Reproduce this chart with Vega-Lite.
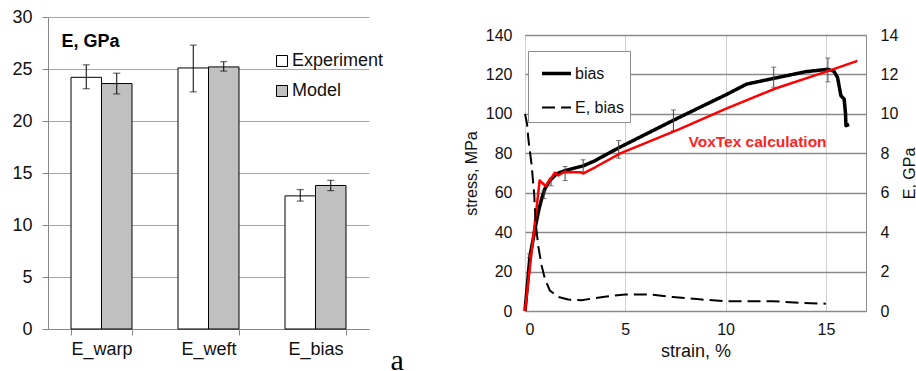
{
  "$schema": "https://vega.github.io/schema/vega-lite/v6.json",
  "background": "white",
  "padding": {"left": 0, "top": 8, "right": 0, "bottom": 0},
  "config": {
    "font": "Liberation Sans",
    "view": {"stroke": null},
    "axis": {"labelFont": "Liberation Sans", "titleFont": "Liberation Sans", "labelColor": "#111", "titleColor": "#111", "titleFontWeight": "normal", "labelOverlap": false},
    "legend": {"labelFont": "Liberation Sans", "labelColor": "#111"}
  },
  "datasets": {
    "bars": [
      {"param": "E_warp", "series": "Experiment", "value": 24.2, "lo": 23.1, "hi": 25.4},
      {"param": "E_warp", "series": "Model", "value": 23.6, "lo": 22.6, "hi": 24.6},
      {"param": "E_weft", "series": "Experiment", "value": 25.1, "lo": 22.8, "hi": 27.3},
      {"param": "E_weft", "series": "Model", "value": 25.2, "lo": 24.8, "hi": 25.7},
      {"param": "E_bias", "series": "Experiment", "value": 12.8, "lo": 12.3, "hi": 13.4},
      {"param": "E_bias", "series": "Model", "value": 13.8, "lo": 13.3, "hi": 14.3}
    ],
    "bias": [
      {"series": "bias", "strain": 0, "stress": 0},
      {"series": "bias", "strain": 0.25, "stress": 28},
      {"series": "bias", "strain": 0.41, "stress": 36.6},
      {"series": "bias", "strain": 0.53, "stress": 43.4},
      {"series": "bias", "strain": 0.7, "stress": 51.8},
      {"series": "bias", "strain": 0.83, "stress": 56.9},
      {"series": "bias", "strain": 0.99, "stress": 62},
      {"series": "bias", "strain": 1.24, "stress": 66.2},
      {"series": "bias", "strain": 1.58, "stress": 69.6},
      {"series": "bias", "strain": 1.99, "stress": 71.2},
      {"series": "bias", "strain": 2.9, "stress": 73.6},
      {"series": "bias", "strain": 3.48, "stress": 76.2},
      {"series": "bias", "strain": 4.6, "stress": 82.4},
      {"series": "bias", "strain": 7.37, "stress": 96.6},
      {"series": "bias", "strain": 8.7, "stress": 103.2},
      {"series": "bias", "strain": 10.0, "stress": 109.6},
      {"series": "bias", "strain": 11.05, "stress": 115.1},
      {"series": "bias", "strain": 12.4, "stress": 118},
      {"series": "bias", "strain": 14.0, "stress": 121.4},
      {"series": "bias", "strain": 15.1, "stress": 122.6},
      {"series": "bias", "strain": 15.4, "stress": 121.6},
      {"series": "bias", "strain": 15.58, "stress": 118.5},
      {"series": "bias", "strain": 15.75, "stress": 109.2},
      {"series": "bias", "strain": 15.91, "stress": 107.5},
      {"series": "bias", "strain": 15.98, "stress": 100},
      {"series": "bias", "strain": 16.0, "stress": 94},
      {"series": "bias", "strain": 16.16, "stress": 94.6}
    ],
    "voxtex": [
      {"strain": 0, "stress": 0},
      {"strain": 0.73, "stress": 66.2},
      {"strain": 1.03, "stress": 63.4},
      {"strain": 1.49, "stress": 70.2},
      {"strain": 1.66, "stress": 68.8},
      {"strain": 1.95, "stress": 70.5},
      {"strain": 2.78, "stress": 70.4},
      {"strain": 2.9, "stress": 69.8},
      {"strain": 3.5, "stress": 72.9},
      {"strain": 4.75, "stress": 80},
      {"strain": 7.7, "stress": 92.3},
      {"strain": 10.0, "stress": 102.5},
      {"strain": 12.52, "stress": 113},
      {"strain": 15.17, "stress": 121.9},
      {"strain": 16.57, "stress": 126.9}
    ],
    "modulus": [
      {"series": "E, bias", "strain": 0, "E": 10.0},
      {"series": "E, bias", "strain": 0.1, "E": 9.5},
      {"series": "E, bias", "strain": 0.17, "E": 8.7},
      {"series": "E, bias", "strain": 0.33, "E": 7.4},
      {"series": "E, bias", "strain": 0.46, "E": 5.9},
      {"series": "E, bias", "strain": 0.53, "E": 4.5},
      {"series": "E, bias", "strain": 0.66, "E": 3.3},
      {"series": "E, bias", "strain": 0.83, "E": 2.3},
      {"series": "E, bias", "strain": 0.99, "E": 1.64},
      {"series": "E, bias", "strain": 1.24, "E": 1.04},
      {"series": "E, bias", "strain": 1.66, "E": 0.71},
      {"series": "E, bias", "strain": 2.15, "E": 0.58},
      {"series": "E, bias", "strain": 2.82, "E": 0.55},
      {"series": "E, bias", "strain": 3.48, "E": 0.65},
      {"series": "E, bias", "strain": 4.06, "E": 0.74},
      {"series": "E, bias", "strain": 5.0, "E": 0.84},
      {"series": "E, bias", "strain": 6.2, "E": 0.84},
      {"series": "E, bias", "strain": 7.37, "E": 0.71},
      {"series": "E, bias", "strain": 8.7, "E": 0.59},
      {"series": "E, bias", "strain": 10.0, "E": 0.5},
      {"series": "E, bias", "strain": 12.33, "E": 0.5},
      {"series": "E, bias", "strain": 13.66, "E": 0.42},
      {"series": "E, bias", "strain": 15.0, "E": 0.37}
    ],
    "errs": [
      {"strain": 0.22, "lo": 27, "hi": 29},
      {"strain": 0.95, "lo": 57, "hi": 61},
      {"strain": 1.3, "lo": 63.5, "hi": 67.5},
      {"strain": 2.0, "lo": 66.2, "hi": 73.3},
      {"strain": 2.9, "lo": 69.6, "hi": 76.7},
      {"strain": 4.67, "lo": 77.5, "hi": 86.5},
      {"strain": 7.4, "lo": 91.5, "hi": 102},
      {"strain": 12.4, "lo": 113.5, "hi": 123.7},
      {"strain": 15.1, "lo": 116.2, "hi": 128.3}
    ]
  },
  "bounds": "flush",
  "center": true,
  "spacing": 156,
  "resolve": {
    "scale": {"fill": "independent", "strokeDash": "independent", "strokeWidth": "independent"},
    "legend": {"fill": "independent", "strokeDash": "independent", "strokeWidth": "independent"}
  },
  "hconcat": [
    {
      "width": 321,
      "height": 312,
      "layer": [
        {
          "data": {"name": "bars"},
          "mark": {"type": "bar", "stroke": "black", "strokeWidth": 1},
          "encoding": {
            "x": {"field": "param", "type": "nominal", "sort": ["E_warp", "E_weft", "E_bias"],
              "scale": {"paddingInner": 0.43, "paddingOuter": 0.215},
              "axis": {"title": "a", "titleFont": "Liberation Serif", "titleFontSize": 30, "titleX": 342, "titleY": 40, "titleAlign": "left", "titleBaseline": "alphabetic", "titleColor": "#000",
                "labelAngle": 0, "labelFontSize": 18, "labelPadding": 5, "tickSize": 6, "tickColor": "#888", "domainColor": "#888", "tickBand": "extent", "grid": false}},
            "xOffset": {"field": "series", "type": "nominal", "sort": ["Experiment", "Model"], "scale": {"paddingInner": 0, "paddingOuter": 0}},
            "y": {"field": "value", "type": "quantitative", "scale": {"domain": [0, 30], "nice": false},
              "axis": {"title": null, "values": [0, 5, 10, 15, 20, 25, 30], "grid": true, "gridColor": "#a6a6a6", "domainColor": "#888", "tickColor": "#888", "tickSize": 6, "labelFontSize": 18, "labelPadding": 10, "minExtent": 48, "maxExtent": 48}},
            "fill": {"field": "series", "type": "nominal", "scale": {"domain": ["Experiment", "Model"], "range": ["white", "#c0c0c0"]},
              "legend": {"title": null, "orient": "none", "legendX": 225, "legendY": 35, "padding": 0, "labelFontSize": 18, "symbolType": "square", "symbolSize": 121, "symbolStrokeColor": "black", "symbolStrokeWidth": 1, "rowPadding": 12, "labelOffset": 1}}
          }
        },
        {
          "data": {"name": "bars"},
          "mark": {"type": "rule", "color": "black", "strokeWidth": 1},
          "encoding": {
            "x": {"field": "param", "type": "nominal", "sort": ["E_warp", "E_weft", "E_bias"]},
            "xOffset": {"field": "series", "type": "nominal", "sort": ["Experiment", "Model"]},
            "y": {"field": "lo", "type": "quantitative"},
            "y2": {"field": "hi"}
          }
        },
        {
          "data": {"name": "bars"},
          "mark": {"type": "tick", "orient": "horizontal", "size": 7, "thickness": 1, "color": "black"},
          "encoding": {
            "x": {"field": "param", "type": "nominal", "sort": ["E_warp", "E_weft", "E_bias"]},
            "xOffset": {"field": "series", "type": "nominal", "sort": ["Experiment", "Model"]},
            "y": {"field": "lo", "type": "quantitative"}
          }
        },
        {
          "data": {"name": "bars"},
          "mark": {"type": "tick", "orient": "horizontal", "size": 7, "thickness": 1, "color": "black"},
          "encoding": {
            "x": {"field": "param", "type": "nominal", "sort": ["E_warp", "E_weft", "E_bias"]},
            "xOffset": {"field": "series", "type": "nominal", "sort": ["Experiment", "Model"]},
            "y": {"field": "hi", "type": "quantitative"}
          }
        },
        {
          "data": {"values": [{"label": "E, GPa"}]},
          "mark": {"type": "text", "fontWeight": "bold", "fontSize": 18, "align": "left", "baseline": "middle", "dx": -40, "color": "#000"},
          "encoding": {
            "x": {"datum": "E_warp"},
            "y": {"datum": 27.6},
            "text": {"field": "label"}
          }
        }
      ]
    },
    {
      "width": 341,
      "height": 276,
      "view": {"stroke": "#8c8c8c"},
      "resolve": {"scale": {"y": "independent"}},
      "layer": [
        {
          "layer": [
            {
              "data": {"name": "bias"},
              "mark": {"type": "line", "color": "black", "strokeJoin": "round"},
              "encoding": {
                "x": {"field": "strain", "type": "quantitative", "scale": {"domain": [0, 17], "nice": false},
                  "axis": {"title": "strain, %", "titleFontSize": 18, "titlePadding": 5, "values": [0, 5, 10, 15], "grid": true, "gridColor": "#d0d0d0", "domain": false, "ticks": false, "labelFontSize": 16, "labelPadding": 10}},
                "y": {"field": "stress", "type": "quantitative", "scale": {"domain": [0, 140], "nice": false},
                  "axis": {"title": "stress, MPa", "titleFontSize": 16, "titlePadding": 6, "values": [0, 20, 40, 60, 80, 100, 120, 140], "tickCount": 8, "grid": true, "gridColor": "#8a8a8a", "gridWidth": 1.3, "domain": false, "ticks": false, "labelFontSize": 16, "labelPadding": 13}},
                "strokeDash": {"field": "series", "type": "nominal", "scale": {"domain": ["bias", "E, bias"], "range": [[1, 0], [13, 6]]},
                  "legend": {"title": null, "orient": "none", "legendX": 3, "legendY": 16, "padding": 6, "symbolOffset": 6, "strokeColor": "#8c8c8c", "fillColor": "white", "symbolType": "stroke", "symbolSize": 841, "symbolStrokeColor": "black", "labelFontSize": 16, "rowPadding": 10, "labelOffset": 2}},
                "strokeWidth": {"field": "series", "type": "nominal", "scale": {"domain": ["bias", "E, bias"], "range": [3.5, 2]},
                  "legend": {"title": null, "orient": "none", "legendX": 3, "legendY": 16, "padding": 6, "symbolOffset": 6, "strokeColor": "#8c8c8c", "fillColor": "white", "symbolType": "stroke", "symbolSize": 841, "symbolStrokeColor": "black", "labelFontSize": 16, "rowPadding": 10, "labelOffset": 2}}
              }
            },
            {
              "data": {"name": "errs"},
              "mark": {"type": "rule", "color": "#444", "strokeWidth": 1},
              "encoding": {
                "x": {"field": "strain", "type": "quantitative", "title": "strain, %"},
                "y": {"field": "lo", "type": "quantitative",
                  "axis": {"title": "stress, MPa", "titleFontSize": 16, "titlePadding": 6, "values": [0, 20, 40, 60, 80, 100, 120, 140], "tickCount": 8, "grid": true, "gridColor": "#8a8a8a", "gridWidth": 1.3, "domain": false, "ticks": false, "labelFontSize": 16, "labelPadding": 13}},
                "y2": {"field": "hi"}
              }
            },
            {
              "data": {"name": "errs"},
              "mark": {"type": "tick", "orient": "horizontal", "size": 5, "thickness": 1, "color": "#444"},
              "encoding": {
                "x": {"field": "strain", "type": "quantitative", "title": "strain, %"},
                "y": {"field": "lo", "type": "quantitative",
                  "axis": {"title": "stress, MPa", "titleFontSize": 16, "titlePadding": 6, "values": [0, 20, 40, 60, 80, 100, 120, 140], "tickCount": 8, "grid": true, "gridColor": "#8a8a8a", "gridWidth": 1.3, "domain": false, "ticks": false, "labelFontSize": 16, "labelPadding": 13}}
              }
            },
            {
              "data": {"name": "errs"},
              "mark": {"type": "tick", "orient": "horizontal", "size": 5, "thickness": 1, "color": "#444"},
              "encoding": {
                "x": {"field": "strain", "type": "quantitative", "title": "strain, %"},
                "y": {"field": "hi", "type": "quantitative",
                  "axis": {"title": "stress, MPa", "titleFontSize": 16, "titlePadding": 6, "values": [0, 20, 40, 60, 80, 100, 120, 140], "tickCount": 8, "grid": true, "gridColor": "#8a8a8a", "gridWidth": 1.3, "domain": false, "ticks": false, "labelFontSize": 16, "labelPadding": 13}}
              }
            },
            {
              "data": {"name": "voxtex"},
              "mark": {"type": "line", "color": "#ff0000", "strokeWidth": 2.5, "strokeJoin": "round"},
              "encoding": {
                "x": {"field": "strain", "type": "quantitative", "title": "strain, %"},
                "y": {"field": "stress", "type": "quantitative",
                  "axis": {"title": "stress, MPa", "titleFontSize": 16, "titlePadding": 6, "values": [0, 20, 40, 60, 80, 100, 120, 140], "tickCount": 8, "grid": true, "gridColor": "#8a8a8a", "gridWidth": 1.3, "domain": false, "ticks": false, "labelFontSize": 16, "labelPadding": 13}}
              }
            },
            {
              "data": {"values": [{}]},
              "mark": {"type": "text", "text": "VoxTex calculation", "color": "#ff2222", "fontWeight": "bold", "fontSize": 15.5, "align": "left", "baseline": "middle"},
              "encoding": {
                "x": {"datum": 8.15},
                "y": {"datum": 85.8,
                  "axis": {"title": "stress, MPa", "titleFontSize": 16, "titlePadding": 6, "values": [0, 20, 40, 60, 80, 100, 120, 140], "tickCount": 8, "grid": true, "gridColor": "#8a8a8a", "gridWidth": 1.3, "domain": false, "ticks": false, "labelFontSize": 16, "labelPadding": 13}}
              }
            }
          ]
        },
        {
          "data": {"name": "modulus"},
          "mark": {"type": "line", "color": "black"},
          "encoding": {
            "x": {"field": "strain", "type": "quantitative", "title": "strain, %"},
            "y": {"field": "E", "type": "quantitative", "scale": {"domain": [0, 14], "nice": false},
              "axis": {"orient": "right", "title": "E, GPa", "titleFontSize": 16, "titleAngle": 270, "titleBaseline": "top", "titlePadding": 4, "values": [0, 2, 4, 6, 8, 10, 12, 14], "grid": false, "domain": false, "ticks": false, "labelFontSize": 16, "labelPadding": 14}},
            "strokeDash": {"field": "series", "type": "nominal"},
            "strokeWidth": {"field": "series", "type": "nominal"}
          }
        }
      ]
    }
  ]
}
